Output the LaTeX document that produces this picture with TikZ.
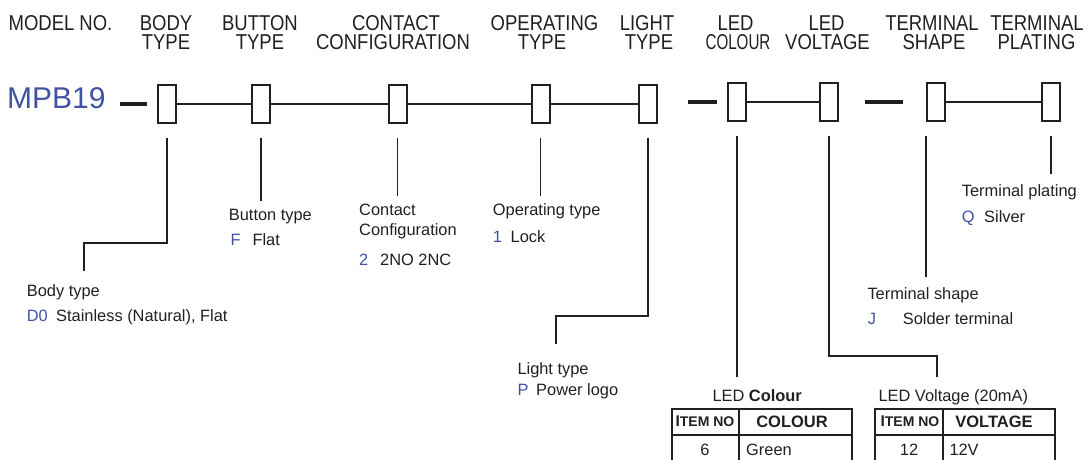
\documentclass[tikz,border=0pt]{standalone}
\usepackage{graphicx}
\usepackage{fontspec}
\setmainfont{Liberation Sans}
\newfontfamily\hdrfont[FakeStretch=0.86]{Liberation Sans}
\usetikzlibrary{positioning}
\definecolor{ink}{RGB}{35,31,32}
\definecolor{codeblue}{RGB}{62,82,166}
\tikzset{
	slot/.style={draw=ink, line width=2pt, minimum width=18pt, minimum height=37pt, inner sep=0pt},
	hdr/.style={anchor=base, inner sep=0pt, text height=15.5pt, text depth=0pt, text=ink, font=\hdrfont\fontsize{21.5}{21.5}\selectfont},
	lbl/.style={anchor=base west, inner sep=0pt, text=ink, font=\fontsize{16.4}{19}\selectfont},
	code/.style={lbl, text=codeblue},
	cell/.style={anchor=base, inner sep=0pt, text=ink, font=\fontsize{16.4}{19}\selectfont},
	lead/.style={draw=ink, line width=1.8pt},
	link/.style={draw=ink, line width=1.5pt},
	gap/.style={draw=ink, line width=4.5pt},
	tbl/.style={draw=ink, line width=1.6pt},
}
\newcommand{\itemno}{{\fontsize{15.5}{16}\selectfont I}{\fontsize{14}{14}\selectfont TEM NO}}
\begin{document}
\begin{tikzpicture}[x=1pt,y=-1pt]
	\useasboundingbox (0,0) rectangle (1088,460);
	% headings
	\node[hdr] (hmodel) at (60.5,30.7) {MODEL NO.};
	\node[hdr] (hbody) at (166,30.7) {BODY};
	\node[hdr] (hbody2) at (166,50) {TYPE};
	\node[hdr] (hbutton) at (260,30.7) {BUTTON};
	\node[hdr] (hbutton2) at (260,50) {TYPE};
	\node[hdr] (hcontact) at (396,30.7) {CONTACT};
	\node[hdr] (hcontact2) at (393,50) {CONFIGURATION};
	\node[hdr] (hoper) at (544.5,30.7) {OPERATING};
	\node[hdr] (hoper2) at (542,50) {TYPE};
	\node[hdr] (hlight) at (647,30.7) {LIGHT};
	\node[hdr] (hlight2) at (649,50) {TYPE};
	\node[hdr] (hledc) at (735.5,30.7) {LED};
	\node[hdr] (hledc2) at (738,50) {\scalebox{0.82}[1]{COLOUR}};
	\node[hdr] (hledv) at (826.5,30.7) {LED};
	\node[hdr] (hledv2) at (827.5,50) {VOLTAGE};
	\node[hdr] (htshape) at (932,30.7) {TERMINAL};
	\node[hdr] (htshape2) at (934,50) {SHAPE};
	\node[hdr] (htplat) at (1037,30.7) {TERMINAL};
	\node[hdr] (htplat2) at (1036.5,50) {PLATING};
	% code line
	\node[anchor=base west, inner sep=0pt, text=codeblue, font=\fontsize{30}{32}\selectfont] (model) at (7,108.3) {MPB19};
	\node[slot] (body) at (167,104) {};
	\node[slot] (button) at (261,104) {};
	\node[slot] (contact) at (397.5,104) {};
	\node[slot] (oper) at (540.5,104) {};
	\node[slot] (light) at (648,104) {};
	\node[slot] (ledc) at (737,102) {};
	\node[slot] (ledv) at (829.3,102) {};
	\node[slot] (tshape) at (936.3,102) {};
	\node[slot] (tplat) at (1051.3,102) {};
	\draw[link] (body) -- (button) -- (contact) -- (oper) -- (light);
	\draw[link] (ledc) -- (ledv);
	\draw[link] (tshape) -- (tplat);
	\draw[gap] ([xshift=-10.5pt]body.west) -- ++(-26.5,0);
	\draw[gap] ([xshift=-10.5pt]ledc.west) -- ++(-29,0);
	\draw[gap] ([xshift=-23pt]tshape.west) -- ++(-38.5,0);
	% leader ends
	\coordinate (bodyend) at (84,271);
	\coordinate (buttonend) at (261,201);
	\coordinate (contactend) at (397.5,195.7);
	\coordinate (operend) at (540.5,195.7);
	\coordinate (lightend) at (556,344.3);
	\coordinate (ledcend) at (737,377.3);
	\coordinate (ledvend) at (936.7,377.3);
	\coordinate (tshapeend) at (tshape.south west |- 0,276.7);
	\coordinate (tplatend) at (1051.3,174);
	\draw[lead] ([yshift=-14pt]body.south) |- (84,243.3) -- (bodyend);
	\draw[lead] ([yshift=-14pt]button.south) -- (buttonend);
	\draw[lead] ([yshift=-14pt]contact.south) -- (contactend);
	\draw[lead] ([yshift=-14pt]oper.south) -- (operend);
	\draw[lead] ([yshift=-14pt]light.south) |- (556,316) -- (lightend);
	\draw[lead] ([yshift=-14pt]ledc.south) -- (ledcend);
	\draw[lead] ([yshift=-14pt]ledv.south) |- (936.7,355.7) -- (ledvend);
	\draw[lead] ([yshift=-14pt]tshape.south west) -- (tshapeend);
	\draw[lead] ([yshift=-14pt]tplat.south) -- (tplatend);
	% labels
	\node[lbl] (lbody) at (26.7,296.7) {Body type};
	\node[code] (cbody) at (26.7,321.7) {D0};
	\node[lbl] (dbody) at (56,321.7) {Stainless (Natural), Flat};
	\node[lbl] (lbutton) at (228.7,220.7) {Button type};
	\node[code] (cbutton) at (230.5,245) {F};
	\node[lbl] (dbutton) at (252.3,245) {Flat};
	\node[lbl] (lcontact) at (359,215.7) {Contact};
	\node[lbl] (lcontact2) at (359,235.7) {Configuration};
	\node[code] (ccontact) at (359,265) {2};
	\node[lbl] (dcontact) at (380,265) {2NO 2NC};
	\node[lbl] (loper) at (492.7,215.7) {Operating type};
	\node[code] (coper) at (492.7,242.3) {1};
	\node[lbl] (doper) at (510.5,242.3) {Lock};
	\node[lbl] (llight) at (517.3,374) {Light type};
	\node[code] (clight) at (517.3,395.7) {P};
	\node[lbl] (dlight) at (536,395.7) {Power logo};
	\node[lbl] (ltshape) at (867.3,299) {Terminal shape};
	\node[code] (ctshape) at (867.7,324.3) {J};
	\node[lbl] (dtshape) at (902.7,324.3) {Solder terminal};
	\node[lbl] (ltplat) at (961.7,196.7) {Terminal plating};
	\node[code] (ctplat) at (961.7,222.3) {Q};
	\node[lbl] (dtplat) at (984,222.3) {Silver};
	% tables
	\node[lbl] (lledc) at (712.3,401) {LED \textbf{Colour}};
	\node[lbl] (lledv) at (878.3,401) {LED Voltage (20mA)};
	\draw[tbl] (671.7,470) |- (851.7,409) -- (851.7,470);
	\draw[tbl] (739,409) -- (739,470);
	\draw[tbl] (671.7,435) -- (851.7,435);
	\draw[tbl] (875,470) |- (1055,409) -- (1055,470);
	\draw[tbl] (942.7,409) -- (942.7,470);
	\draw[tbl] (875,435) -- (1055,435);
	\node[cell, font=\bfseries] (citem) at (705,426.5) {\itemno};
	\node[cell, font=\bfseries\fontsize{16.5}{19}\selectfont] (ccolour) at (792,427.5) {COLOUR};
	\node[cell] (cgreen0) at (705,455) {6};
	\node[lbl] (cgreen) at (746,455) {Green};
	\node[cell, font=\bfseries] (vitem) at (910,426.5) {\itemno};
	\node[cell, font=\bfseries\fontsize{16.5}{19}\selectfont] (vvolt) at (994,427.5) {VOLTAGE};
	\node[cell] (v12) at (909,455) {12};
	\node[lbl] (v12v) at (949.3,455) {12V};
\end{tikzpicture}
\end{document}
